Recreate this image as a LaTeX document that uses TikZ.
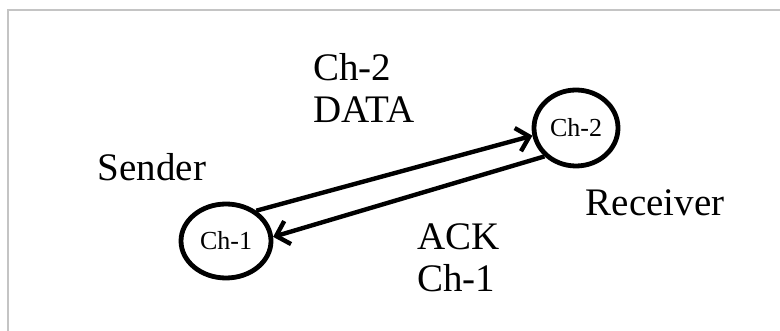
\documentclass[tikz,border=0pt]{standalone}
\usepackage{fontspec}
\setmainfont{Liberation Serif}
\usepackage{tikz}
\usetikzlibrary{arrows.meta,shapes.geometric}
\definecolor{Frame}{RGB}{196, 196, 196}

\begin{document}
\begin{tikzpicture}[x=0.5pt, y=0.5pt,
    station/.style={draw, ellipse, line width=2.4pt, inner sep=0pt,
        font=\fontsize{13}{15}\selectfont},
    label/.style={inner sep=0pt, align=left, font=\fontsize{19.5}{21}\selectfont},
    link/.style={line width=2.2pt, -{Straight Barb[length=6pt, width=12pt, line width=2.2pt]}}]
    %% Background
    \useasboundingbox (0,0) rectangle (780,331);
    \draw[Frame, line width=0.75pt] (8,0) -- (8,321) -- (780,321);

    %% Stations
    \node[station, minimum width=45pt, minimum height=37pt] (ch1) at (226,90) {Ch-1};
    \node[station, minimum width=42pt, minimum height=38pt] (ch2) at (576,203) {Ch-2};

    \node[label] (sender) at (152,164) {Sender};
    \node[label] (receiver) at (655,128) {Receiver};

    %% Data and ack
    \draw[link] (ch1.45) -- (ch2.190);
    \draw[link] (ch2.222) -- (ch1.5);

    \node[label, anchor=west] (data) at (313,243) {Ch-2\\DATA};
    \node[label, anchor=west] (ack) at (417,73) {ACK\\Ch-1};
\end{tikzpicture}
\end{document}
